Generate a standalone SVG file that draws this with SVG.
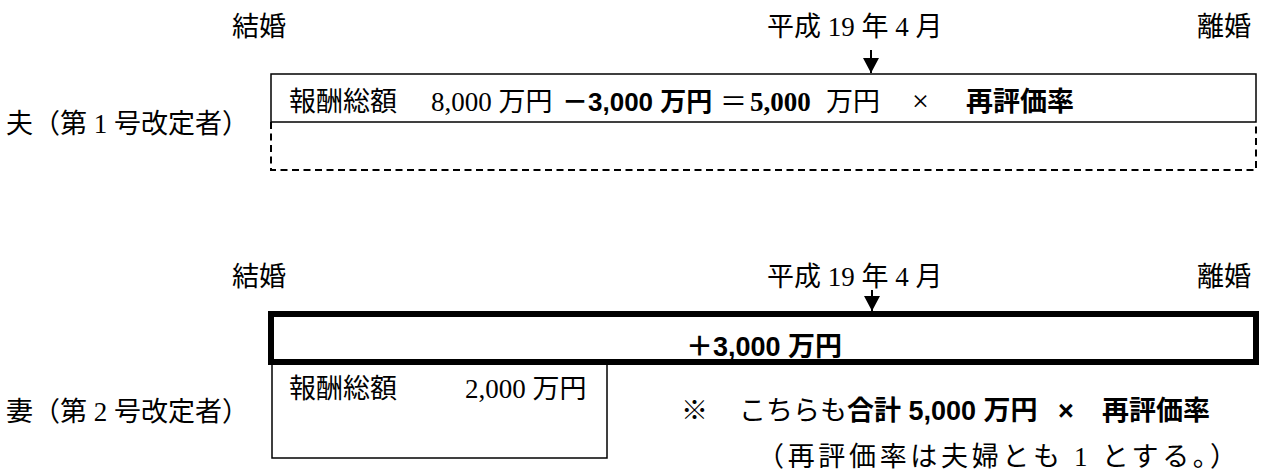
<svg xmlns="http://www.w3.org/2000/svg" width="1263" height="470" viewBox="0 0 1263 470">
<defs>
<style>
.m{font-family:"Liberation Serif","Noto Sans CJK JP",serif;font-size:27px;fill:#000;}
.b{font-family:"Liberation Sans","Noto Sans CJK JP",sans-serif;font-weight:bold;}
.bs{font-family:"Liberation Serif","Noto Sans CJK JP",serif;font-weight:bold;}
.box{fill:#fff;stroke:#000;stroke-width:1.5;}
.dash{fill:none;stroke:#000;stroke-width:2;stroke-dasharray:7 4.5;}
.thick{fill:#fff;stroke:#000;stroke-width:6;}
.conn{stroke:#000;stroke-width:2;fill:none;}
</style>
<marker id="ah" markerUnits="userSpaceOnUse" markerWidth="15" markerHeight="16" refX="15" refY="8" orient="auto" viewBox="0 0 15 16">
<path d="M0,0 L15,8 L0,16 Z" fill="#000"/>
</marker>
</defs>
<rect width="1263" height="470" fill="#fff"/>

<g id="husband-timeline">
<text class="m" x="232" y="36">結婚</text>
<text class="m" x="767" y="36">平成 19 年 4 月</text>
<text class="m" x="1251" y="36" text-anchor="end">離婚</text>
</g>
<g id="husband-label">
<text class="m" x="6" y="133">夫（第 1 号改定者）</text>
</g>
<g id="husband-box">
<path class="dash" d="M271,122 V170 H1256 V122"/>
<rect class="box" x="271" y="74" width="985" height="48"/>
<text class="m" y="111"><tspan x="289">報酬総額</tspan><tspan x="431">8,000 万円</tspan><tspan class="b" x="562" font-size="26">－3,000 万円</tspan><tspan x="720">＝</tspan><tspan class="bs" x="750">5,000</tspan><tspan x="826">万円</tspan><tspan x="912" font-size="30">×</tspan><tspan class="b" x="966">再評価率</tspan></text>
</g>

<g id="wife-timeline">
<text class="m" x="232" y="286">結婚</text>
<text class="m" x="767" y="286">平成 19 年 4 月</text>
<text class="m" x="1251" y="286" text-anchor="end">離婚</text>
</g>
<g id="wife-label">
<text class="m" x="6" y="421">妻（第 2 号改定者）</text>
</g>
<g id="wife-box">
<rect class="box" x="272" y="362" width="335" height="96"/>
<rect class="thick" x="271" y="314" width="985" height="48"/>
<text class="m b" x="686" y="356" font-size="24">＋3,000 万円</text>
<text class="m" y="398"><tspan x="289">報酬総額</tspan><tspan x="465">2,000 万円</tspan></text>
</g>
<g id="wife-note">
<text class="m" y="420"><tspan x="681">※</tspan><tspan x="739">こちらも</tspan><tspan class="b" x="847">合計 5,000 万円</tspan><tspan class="b" x="1058">×</tspan><tspan class="b" x="1102">再評価率</tspan></text>
<text class="m" x="757" y="466" textLength="480" lengthAdjust="spacing">（再評価率は夫婦とも 1 とする。）</text>
</g>

<g id="connectors">
<line class="conn" x1="871" y1="50" x2="871" y2="73" marker-end="url(#ah)"/>
<line class="conn" x1="872" y1="290" x2="872" y2="311" marker-end="url(#ah)"/>
</g>
</svg>
